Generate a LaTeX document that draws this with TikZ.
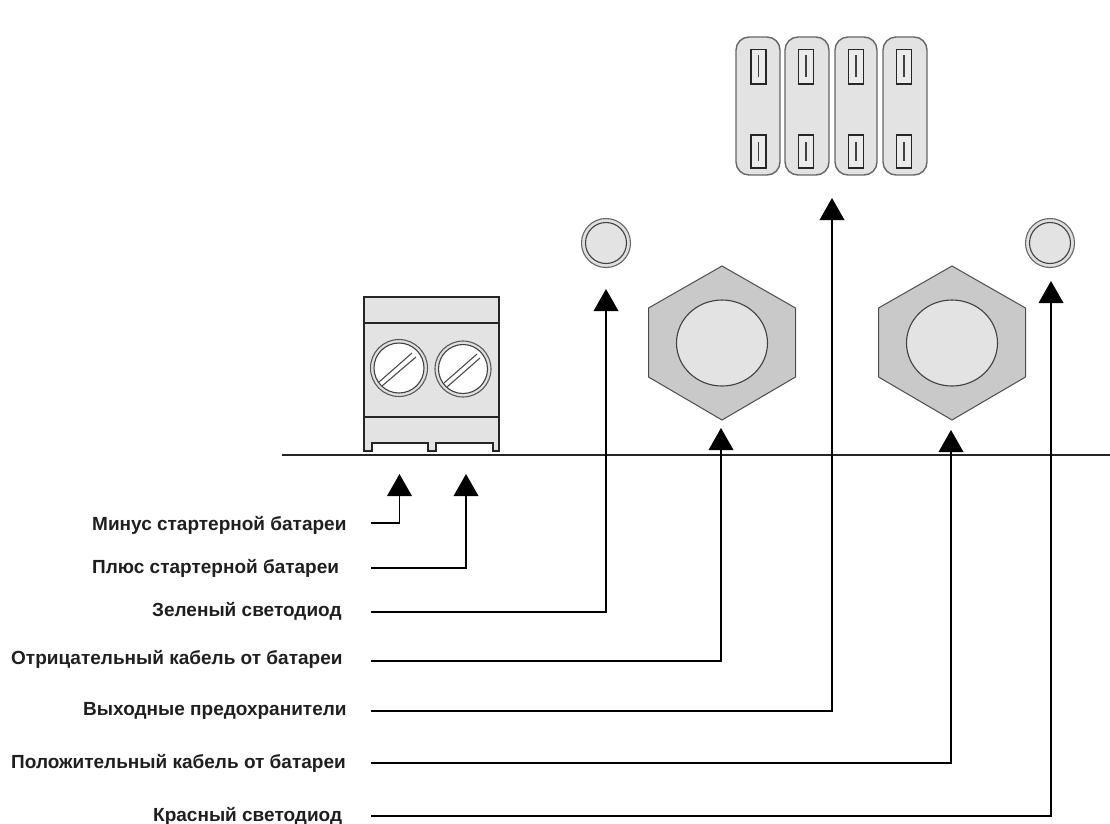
\documentclass[tikz,border=0pt]{standalone}
\usepackage{fontspec}
\setmainfont{Liberation Sans}
\tikzset{
  lbl/.style={anchor=west,inner sep=0pt,font=\fontsize{19}{20}\selectfont\bfseries,text=black!88},
  conn/.style={draw=black,line width=1.1pt},
  tip/.style={fill=black,draw=none},
  pale/.style={fill=black!11,draw=black!75,line width=1.1pt},
  nut/.style={fill=black!21,draw=black!70,line width=1pt},
  ink/.style={draw=black!85,line width=1.2pt}
}
\newcommand{\arrowtip}[3]{\fill[tip] (#1,#2) -- (#1+12.5,#3) -- (#1-12.5,#3) -- cycle;}
\newcommand{\fuse}[3]{%
  \draw[pale,draw=black!60,line width=1.4pt,rounded corners=13pt] (#1,37) rectangle (#2,175);
  \draw[ink,fill=black!8,line width=1.3pt] (#3-7.5,49.5) rectangle (#3+7.5,84);
  \draw[ink,fill=black!8,line width=1.3pt] (#3-7.5,135) rectangle (#3+7.5,168);
  \draw[draw=black!75,line width=1.2pt] (#3,55) -- (#3,77);
  \draw[draw=black!75,line width=1.2pt] (#3,142) -- (#3,161);
}
\newcommand{\hexnut}[1]{%
  \draw[nut] (#1,266) -- (#1+73.5,308) -- (#1+73.5,377) -- (#1,420) -- (#1-73.5,377) -- (#1-73.5,308) -- cycle;
  \draw[pale] (#1,343) ellipse [x radius=45.5,y radius=43];
}
\newcommand{\lamp}[2]{%
  \draw[fill=black!12,draw=black!60,line width=1.1pt] (#1,#2) circle [radius=24.5];
  \draw[pale,draw=black!75,line width=1.1pt] (#1,#2) circle [radius=20.5];
}
\begin{document}
\begin{tikzpicture}[x=1pt,y=-1pt]
\useasboundingbox (0,0) rectangle (1110,823);
% fuses
\fuse{736}{780}{758.5}
\fuse{785}{829}{806}
\fuse{835}{877}{856}
\fuse{883}{927}{904}
% LEDs
\lamp{606}{243}
\lamp{1050}{243}
% nuts
\hexnut{722}
\hexnut{952}
% terminal block
\draw[pale,draw=black!85,line width=1.2pt] (364,297) -- (499,297) -- (499,451) -- (493,451) -- (493,443) -- (436,443) -- (436,451) -- (428,451) -- (428,443) -- (372,443) -- (372,451) -- (364,451) -- cycle;
\draw[ink] (364,323) -- (499,323);
\draw[ink] (364,417) -- (499,417);
\draw[fill=black!12,draw=black!65,line width=1.1pt] (399,368) circle [radius=28.5];
\draw[fill=white,draw=black!75,line width=1.1pt] (399,368) circle [radius=25];
\draw[fill=black!12,draw=black!65,line width=1.1pt] (463,369) circle [radius=28];
\draw[fill=white,draw=black!75,line width=1.1pt] (463,369) circle [radius=24.5];
\draw[draw=black!70,line width=1.1pt] (379,382) -- (412,353);
\draw[draw=black!70,line width=1.1pt] (382,386) -- (416,357);
\draw[draw=black!70,line width=1.1pt] (444,383) -- (477,354);
\draw[draw=black!70,line width=1.1pt] (447,387) -- (480,358);
% baseline
\coordinate (bl) at (282,455);
\coordinate (br) at (1110,455);
\draw[draw=black!85,line width=1.1pt] (bl) -- (br);
% labels
\node[lbl] (a) at (92,525) {Минус стартерной батареи};
\node[lbl] (b) at (92,568) {Плюс стартерной батареи};
\node[lbl] (c) at (152,611) {Зеленый светодиод};
\node[lbl] (d) at (11,659) {Отрицательный кабель от батареи};
\node[lbl] (e) at (83,711) {Выходные предохранители};
\node[lbl] (f) at (11,763) {Положительный кабель от батареи};
\node[lbl] (g) at (153,816) {Красный светодиод};
% connector starts and targets
\coordinate (a0) at (371,523); \coordinate (a1) at (399.5,490);
\coordinate (b0) at (371,568); \coordinate (b1) at (466,490);
\coordinate (c0) at (371,612); \coordinate (c1) at (606,305);
\coordinate (d0) at (371,661); \coordinate (d1) at (721,445);
\coordinate (e0) at (371,711); \coordinate (e1) at (832,215);
\coordinate (f0) at (371,763); \coordinate (f1) at (951,447);
\coordinate (g0) at (371,816); \coordinate (g1) at (1051,298);
\draw[conn] (a0) -| (a1);
\draw[conn] (b0) -| (b1);
\draw[conn] (c0) -| (c1);
\draw[conn] (d0) -| (d1);
\draw[conn] (e0) -| (e1);
\draw[conn] (f0) -| (f1);
\draw[conn] (g0) -| (g1);
\arrowtip{399.5}{474}{496}
\arrowtip{466}{474}{496}
\arrowtip{606}{289}{311}
\arrowtip{721}{428}{450}
\arrowtip{832}{198}{220}
\arrowtip{951}{430}{452}
\arrowtip{1051}{281}{303}
\end{tikzpicture}
\end{document}
